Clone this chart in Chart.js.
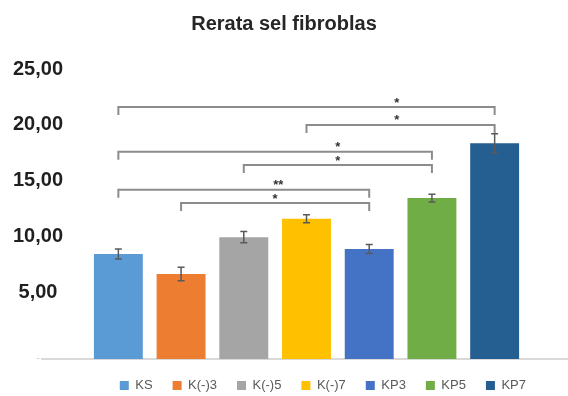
<!DOCTYPE html>
<html>
<head>
<meta charset="utf-8">
<script src="https://cdn.jsdelivr.net/npm/chart.js@4"></script>
<style>
  html, body { margin: 0; padding: 0; background: #fff; }
</style>
</head>
<body>
<canvas id="grafik" width="568" height="396"></canvas>
<script>
// data
var kategori = ['KS', 'K(-)3', 'K(-)5', 'K(-)7', 'KP3', 'KP5', 'KP7'];
var rerata = [8.45, 6.65, 9.95, 11.6, 8.9, 13.45, 18.35];
var galat = [0.45, 0.6, 0.5, 0.35, 0.4, 0.35, 0.85];
var warna = ['#5b9bd5', '#ed7d31', '#a5a5a5', '#ffc000', '#4472c4', '#70ad47', '#255e91'];

// sumbu y: tanda '-' ada di garis dasar, sedikit di bawah nol
var Y_MIN = -0.95;
var nilaiTick = [Y_MIN, 5, 10, 15, 20, 25];
var labelTick = ['-', '5,00', '10,00', '15,00', '20,00', '25,00'];

// braket signifikansi
var braketDari = [0, 3, 0, 2, 0, 1];
var braketKe = [6, 6, 5, 5, 4, 4];
var braketTinggi = [21.6, 20.0, 17.6, 16.4, 14.2, 13.0];
var braketTanda = ['*', '*', '*', '*', '**', '*'];
var braketPosTanda = [4.44, 4.44, 3.5, 3.5, 2.55, 2.5];

Chart.defaults.font.family = "'Liberation Sans', Arial, sans-serif";

// garis dasar abu-abu yang lebih panjang dari area grafik
var garisDasar = {
    id: 'garisDasar',
    afterLayout: function(chart) {
        // judul ditengahkan di seluruh lebar kanvas
        chart.titleBlock.left = 0;
        chart.titleBlock.right = chart.width;
    },
    beforeDatasetsDraw: function(chart) {
        var ctx = chart.ctx;
        var y = chart.scales.y.getPixelForValue(Y_MIN);
        ctx.save();
        ctx.strokeStyle = '#d9d9d9';
        ctx.lineWidth = 2;
        ctx.beginPath();
        ctx.moveTo(41, y);
        ctx.lineTo(chart.width, y);
        ctx.stroke();
        ctx.restore();
    }
};

// error bar
var errorBar = {
    id: 'errorBar',
    afterDatasetsDraw: function(chart) {
        var ctx = chart.ctx;
        var yS = chart.scales.y;
        var meta = chart.getDatasetMeta(0);
        ctx.save();
        ctx.strokeStyle = '#595959';
        ctx.lineWidth = 1.5;
        meta.data.forEach(function(bar, i) {
            var x = bar.x;
            var atas = yS.getPixelForValue(rerata[i] + galat[i]);
            var bawah = yS.getPixelForValue(rerata[i] - galat[i]);
            ctx.beginPath();
            ctx.moveTo(x, atas); ctx.lineTo(x, bawah);
            ctx.moveTo(x - 3.5, atas); ctx.lineTo(x + 3.5, atas);
            ctx.moveTo(x - 3.5, bawah); ctx.lineTo(x + 3.5, bawah);
            ctx.stroke();
        });
        ctx.restore();
    }
};

// braket dan bintang
var braket = {
    id: 'braket',
    afterDatasetsDraw: function(chart) {
        var ctx = chart.ctx;
        var xS = chart.scales.x;
        var yS = chart.scales.y;
        ctx.save();
        ctx.strokeStyle = '#8c8c8c';
        ctx.lineWidth = 2;
        ctx.fillStyle = '#333333';
        ctx.font = "bold 13px 'Liberation Sans', Arial, sans-serif";
        ctx.textAlign = 'center';
        ctx.textBaseline = 'middle';
        for (var i = 0; i < braketDari.length; i++) {
            var x1 = xS.getPixelForValue(braketDari[i]);
            var x2 = xS.getPixelForValue(braketKe[i]);
            var y = yS.getPixelForValue(braketTinggi[i]);
            ctx.beginPath();
            ctx.moveTo(x1, y + 8);
            ctx.lineTo(x1, y);
            ctx.lineTo(x2, y);
            ctx.lineTo(x2, y + 8);
            ctx.stroke();
            ctx.fillText(braketTanda[i], xS.getPixelForValue(braketPosTanda[i]), y - 4);
        }
        ctx.restore();
    }
};

var ctx = document.getElementById('grafik').getContext('2d');
var grafik = new Chart(ctx, {
    type: 'bar',
    data: {
        labels: kategori,
        datasets: [{
            label: 'Rerata',
            data: rerata,
            backgroundColor: warna,
            base: Y_MIN,
            categoryPercentage: 0.78,
            barPercentage: 1.0
        }]
    },
    options: {
        responsive: false,
        animation: false,
        layout: { padding: { left: 0, right: 22, top: 0, bottom: 0 } },
        scales: {
            x: { display: false },
            y: {
                min: Y_MIN,
                max: 25,
                grid: { display: false, drawTicks: false },
                border: { display: false },
                afterBuildTicks: function(axis) {
                    axis.ticks = nilaiTick.map(function(v) { return { value: v }; });
                },
                afterFit: function(axis) { axis.width = 87; },
                ticks: {
                    autoSkip: false,
                    padding: 24,
                    crossAlign: 'center',
                    callback: function(v) { return labelTick[nilaiTick.indexOf(v)]; },
                    color: function(c) { return c.tick && c.tick.value < 0 ? '#bfbfbf' : '#1f1f1f'; },
                    font: function(c) {
                        return c.tick && c.tick.value < 0 ? { size: 9, weight: 'normal' } : { size: 20, weight: 'bold' };
                    }
                }
            },
            yKanan: {
                type: 'linear',
                position: 'right',
                grid: { display: false },
                border: { display: false },
                ticks: { display: false },
                afterFit: function(axis) { axis.width = 20; }
            }
        },
        plugins: {
            title: {
                display: true,
                text: 'Rerata sel fibroblas',
                color: '#262626',
                font: { size: 20, weight: 'bold' },
                padding: { top: 12, bottom: 33 }
            },
            legend: {
                position: 'bottom',
                align: 'end',
                maxHeight: 37,
                labels: {
                    boxWidth: 9,
                    boxHeight: 9,
                    padding: 20,
                    color: '#595959',
                    font: { size: 13 },
                    generateLabels: function(chart) {
                        return kategori.map(function(k, i) {
                            return { text: k, fillStyle: warna[i], strokeStyle: warna[i], lineWidth: 0, hidden: false, index: i, datasetIndex: 0, fontColor: '#595959' };
                        });
                    }
                }
            },
            tooltip: { enabled: false }
        }
    },
    plugins: [garisDasar, errorBar, braket]
});
</script>
</body>
</html>
